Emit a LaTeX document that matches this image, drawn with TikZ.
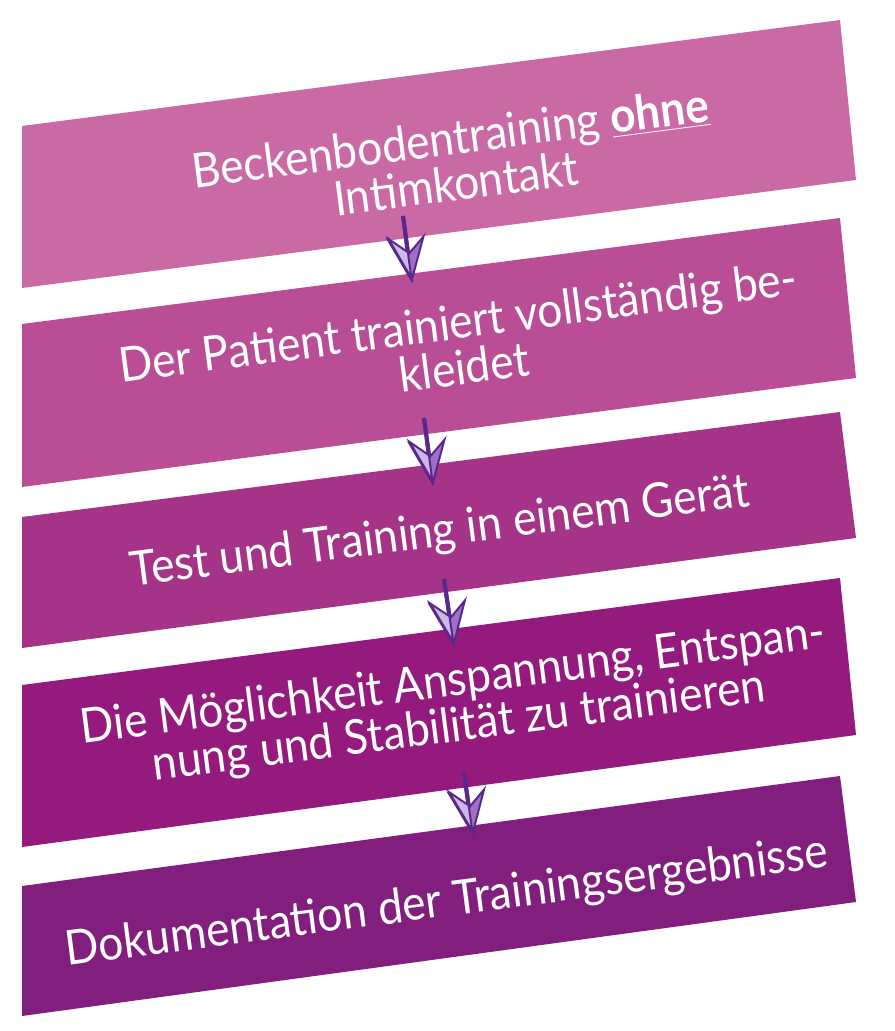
\documentclass[tikz,border=0pt]{standalone}
\usepackage{fontspec}
\setmainfont{Lato}[FakeStretch=0.92]
\definecolor{custompink}{RGB}{201,106,165}
\definecolor{custommagenta}{RGB}{185,78,150}
\definecolor{customberry}{RGB}{165,52,136}
\definecolor{customplum}{RGB}{148,26,126}
\definecolor{custompurple}{RGB}{130,30,126}
\definecolor{customline}{RGB}{90,40,140}
\definecolor{customlight}{RGB}{204,184,228}
\definecolor{customdark}{RGB}{158,112,198}
\usetikzlibrary{arrows.meta}

\begin{document}
\begin{tikzpicture}[x=0.5pt, y=-0.5pt,
    bandtext/.style={text=white, align=center, rotate=7.4, font=\fontsize{24}{23}\selectfont},
    flow/.style={customline, line width=2pt, -{Stealth[length=24pt, width=20pt, inset=9pt, fill=customdark, line width=1pt]}},
    flowhalf/.style={customline, line width=2pt, -{Stealth[harpoon, swap, length=24pt, width=20pt, inset=9pt, fill=customlight, line width=1pt]}}]
    \useasboundingbox (0,0) rectangle (894,1031);

    % Bands
    \fill[custompink] (22,126) -- (840,20) -- (856,180) -- (22,288) -- cycle;
    \fill[custommagenta] (22,324) -- (840,218) -- (856,378) -- (22,487) -- cycle;
    \fill[customberry] (22,517) -- (840,412) -- (856,538) -- (22,648) -- cycle;
    \fill[customplum] (22,685) -- (840,578) -- (856,735) -- (22,847) -- cycle;
    \fill[custompurple] (22,886) -- (840,776) -- (856,902) -- (22,1016) -- cycle;

    % Texts
    \node[bandtext] (t1) at (453,160) {Beckenbodentraining \underline{\textbf{ohne}}\\Intimkontakt};
    \node[bandtext] (t2) at (461,344) {Der Patient trainiert vollständig be-\\kleidet};
    \node[bandtext] (t3) at (440,533) {Test und Training in einem Gerät};
    \node[bandtext] (t4) at (456,705) {Die Möglichkeit Anspannung, Entspan-\\nung und Stabilität zu trainieren};
    \node[bandtext] (t5) at (447,903) {Dokumentation der Trainingsergebnisse};

    % Arrows
    \coordinate (s1) at (403,216); \coordinate (e1) at (412,283);
    \coordinate (s2) at (424,418); \coordinate (e2) at (433,486);
    \coordinate (s3) at (444,579); \coordinate (e3) at (454,647);
    \coordinate (s4) at (464,773); \coordinate (e4) at (473,836);
    \draw[flow] (s1) -- (e1); \draw[flowhalf] (s1) -- (e1);
    \draw[flow] (s2) -- (e2); \draw[flowhalf] (s2) -- (e2);
    \draw[flow] (s3) -- (e3); \draw[flowhalf] (s3) -- (e3);
    \draw[flow] (s4) -- (e4); \draw[flowhalf] (s4) -- (e4);
\end{tikzpicture}
\end{document}
